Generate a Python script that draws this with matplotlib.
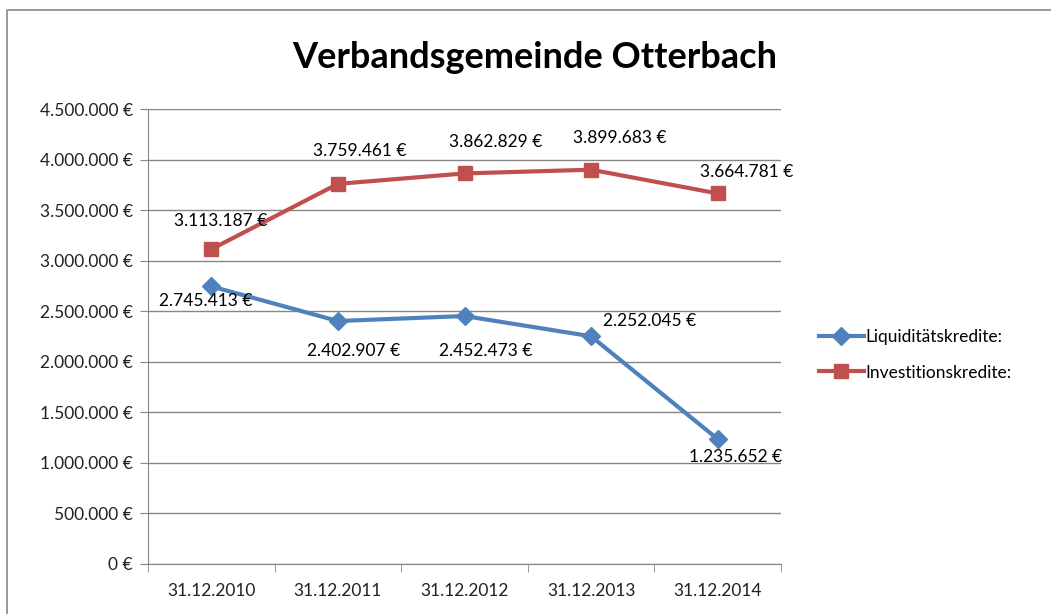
import matplotlib
matplotlib.use("Agg")
import matplotlib.pyplot as plt
from matplotlib.lines import Line2D
from matplotlib.ticker import FuncFormatter, MultipleLocator

plt.rcParams['font.family'] = ['Lato', 'DejaVu Sans']

dates = ['31.12.2010', '31.12.2011', '31.12.2012', '31.12.2013', '31.12.2014']
liquiditaet = [2745413, 2402907, 2452473, 2252045, 1235652]
investition = [3113187, 3759461, 3862829, 3899683, 3664781]

# label offsets in pixels (dx, dy), Excel put them by hand more or less
off_liq = [(-6, -15), (16, -30), (21, -35), (59, 15), (18, -18)]
off_inv = [(9, 28), (22, 33), (31, 31), (29, 32), (29, 21)]

blue = '#4F81BD'
red = '#C0504D'
grid_col = '#868686'


def euro(v, pos=None):
    if v == 0:
        return '0 €'
    return '{:,.0f} €'.format(v).replace(',', '.')


fig = plt.figure(figsize=(10.51, 6.14), dpi=100)
# chart frame: only left and top edges are inside the picture
bx, by = 7 / 1051, 1 - 10 / 614
fig.lines.append(Line2D([bx, bx, 1.0], [0.0, by, by], transform=fig.transFigure,
                        color='#888888', lw=1.2))

ax = fig.add_axes([148 / 1051, 1 - 564 / 614, (781 - 148) / 1051, (564 - 109) / 614])

x = list(range(len(dates)))
ax.plot(x, liquiditaet, color=blue, lw=3, marker='D', ms=9, label='Liquiditätskredite:', zorder=3)
ax.plot(x, investition, color=red, lw=3, marker='s', ms=10.5, label='Investitionskredite:', zorder=3)

for xi, v, o in zip(x, liquiditaet, off_liq):
    ax.annotate(euro(v), (xi, v), xytext=o, textcoords='offset pixels',
                ha='center', va='center', fontsize=12.5, color='black', zorder=4)
for xi, v, o in zip(x, investition, off_inv):
    ax.annotate(euro(v), (xi, v), xytext=o, textcoords='offset pixels',
                ha='center', va='center', fontsize=12.5, color='black', zorder=4)

ax.set_xlim(-0.5, len(dates) - 0.5)
ax.set_ylim(0, 4500000)
ax.yaxis.set_major_locator(MultipleLocator(500000))
ax.yaxis.set_major_formatter(FuncFormatter(euro))
ax.set_xticks(x)
ax.set_xticklabels(dates)
ax.set_xticks([i - 0.5 for i in range(len(dates) + 1)], minor=True)
ax.tick_params(axis='x', which='major', length=0, pad=14, labelsize=12.5, labelcolor='#222222')
ax.tick_params(axis='x', which='minor', length=6, color=grid_col, direction='out')
ax.tick_params(axis='y', length=6, color=grid_col, pad=5, labelsize=12.5, labelcolor='#222222')

ax.grid(axis='y', color=grid_col, lw=1)
ax.set_axisbelow(True)
for s in ['top', 'right']:
    ax.spines[s].set_visible(False)
ax.spines['left'].set_color(grid_col)
ax.spines['bottom'].set_color(grid_col)

fig.text(535 / 1051, 1 - 57 / 614, 'Verbandsgemeinde Otterbach', ha='center', va='center',
         fontsize=26, fontweight='bold')

fig.legend(loc='center left', bbox_to_anchor=(803 / 1051, 1 - 355 / 614), frameon=False,
           fontsize=12.5, handlelength=2.6, labelspacing=1.1, handletextpad=0.1)

fig.savefig('out.png', dpi=100)
